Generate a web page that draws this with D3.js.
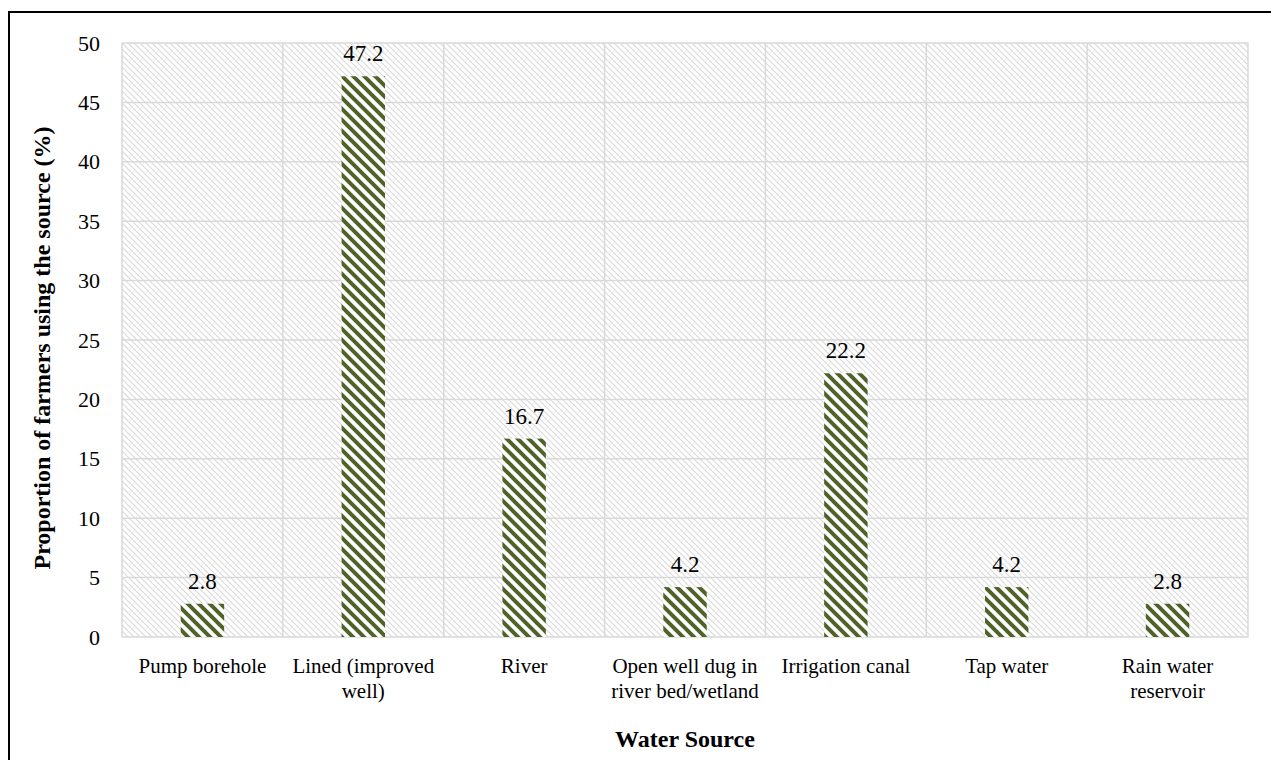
<!DOCTYPE html>
<html>
<head>
<meta charset="utf-8">
<script src="https://cdn.jsdelivr.net/npm/d3@7"></script>
<style>
  body { margin: 0; background: #fff; }
  svg { display: block; font-family: "Liberation Serif", "Times New Roman", serif; }
</style>
</head>
<body>
<svg id="chart" width="1271" height="760"></svg>
<script>
// Water sources and share of farmers using each (%)
const categories = [
  ["Pump borehole"],
  ["Lined (improved", "well)"],
  ["River"],
  ["Open well dug in", "river bed/wetland"],
  ["Irrigation canal"],
  ["Tap water"],
  ["Rain water", "reservoir"]
];
const values = [2.8, 47.2, 16.7, 4.2, 22.2, 4.2, 2.8];
const yTicks = [0, 5, 10, 15, 20, 25, 30, 35, 40, 45, 50];

const svg = d3.select("#chart");
const W = 1271, H = 760;
const m = { left: 122, right: 23, top: 43, bottom: 123 };
const pw = W - m.left - m.right, ph = H - m.top - m.bottom;

const defs = svg.append("defs");
// light grey diagonal hatch for the plot area
const bgPat = defs.append("pattern").attr("id", "bgHatch")
  .attr("patternUnits", "userSpaceOnUse").attr("width", 6).attr("height", 6);
bgPat.append("rect").attr("width", 6).attr("height", 6).attr("fill", "#fff");
bgPat.append("path").attr("d", "M0,0L6,6M-1,5L1,7M5,-1L7,1")
  .attr("stroke", "#d9d9d9").attr("stroke-width", 1.1);
// wide olive diagonal stripes for the bars
const barPat = defs.append("pattern").attr("id", "barHatch")
  .attr("patternUnits", "userSpaceOnUse").attr("width", 11).attr("height", 11);
barPat.append("rect").attr("width", 11).attr("height", 11).attr("fill", "#fff");
barPat.append("path").attr("d", "M0,0L11,11M-3,8L3,14M8,-3L14,3")
  .attr("stroke", "#4f6228").attr("stroke-width", 4);

// outer frame
svg.append("rect").attr("x", 9).attr("y", 12).attr("width", 1300).attr("height", 800)
  .attr("fill", "none").attr("stroke", "#000").attr("stroke-width", 2);

const x = d3.scaleBand().domain(d3.range(categories.length)).range([0, pw]).paddingInner(0).paddingOuter(0);
const y = d3.scaleLinear().domain([0, 50]).range([ph, 0]);

const g = svg.append("g").attr("transform", `translate(${m.left},${m.top})`);

g.append("rect").attr("width", pw).attr("height", ph).attr("fill", "url(#bgHatch)");

// horizontal gridlines
g.selectAll(".hgrid").data(yTicks).join("line")
  .attr("x1", 0).attr("x2", pw)
  .attr("y1", d => y(d)).attr("y2", d => y(d))
  .attr("stroke", "#d9d9d9").attr("stroke-width", 1.5);
// vertical category separators
g.selectAll(".vgrid").data(d3.range(categories.length + 1)).join("line")
  .attr("x1", d => d * x.step()).attr("x2", d => d * x.step())
  .attr("y1", 0).attr("y2", ph)
  .attr("stroke", "#d9d9d9").attr("stroke-width", 1.5);

// bars
const bw = x.bandwidth() * 0.27;
g.selectAll(".bar").data(values).join("rect")
  .attr("x", (d, i) => x(i) + x.bandwidth() / 2 - bw / 2)
  .attr("y", d => y(d))
  .attr("width", bw)
  .attr("height", d => ph - y(d))
  .attr("fill", "url(#barHatch)");

// value labels
g.selectAll(".val").data(values).join("text")
  .attr("x", (d, i) => x(i) + x.bandwidth() / 2)
  .attr("y", d => y(d) - 15)
  .attr("text-anchor", "middle")
  .attr("font-size", 23)
  .attr("fill", "#000")
  .text(d => d.toFixed(1));

// y axis tick labels
const yAxis = d3.axisLeft(y).tickValues(yTicks).tickSize(0).tickPadding(22);
const ya = g.append("g").call(yAxis);
ya.select(".domain").remove();
ya.selectAll("text").attr("font-size", 22).attr("font-family", "Liberation Serif").attr("fill", "#000");

// category labels
const cl = g.selectAll(".cat").data(categories).join("text")
  .attr("text-anchor", "middle")
  .attr("font-size", 21)
  .attr("fill", "#000")
  .attr("transform", (d, i) => `translate(${x(i) + x.bandwidth() / 2},${ph + 36})`);
cl.selectAll("tspan").data(d => d).join("tspan")
  .attr("x", 0).attr("dy", (d, i) => i === 0 ? 0 : 25).text(d => d);

// axis titles
svg.append("text").attr("x", m.left + pw / 2).attr("y", 747)
  .attr("text-anchor", "middle").attr("font-weight", "bold").attr("font-size", 24)
  .text("Water Source");
svg.append("text")
  .attr("transform", `translate(50,${m.top + ph / 2 + 8}) rotate(-90)`)
  .attr("text-anchor", "middle").attr("font-weight", "bold").attr("font-size", 24)
  .text("Proportion of farmers using the source (%)");
</script>
</body>
</html>
